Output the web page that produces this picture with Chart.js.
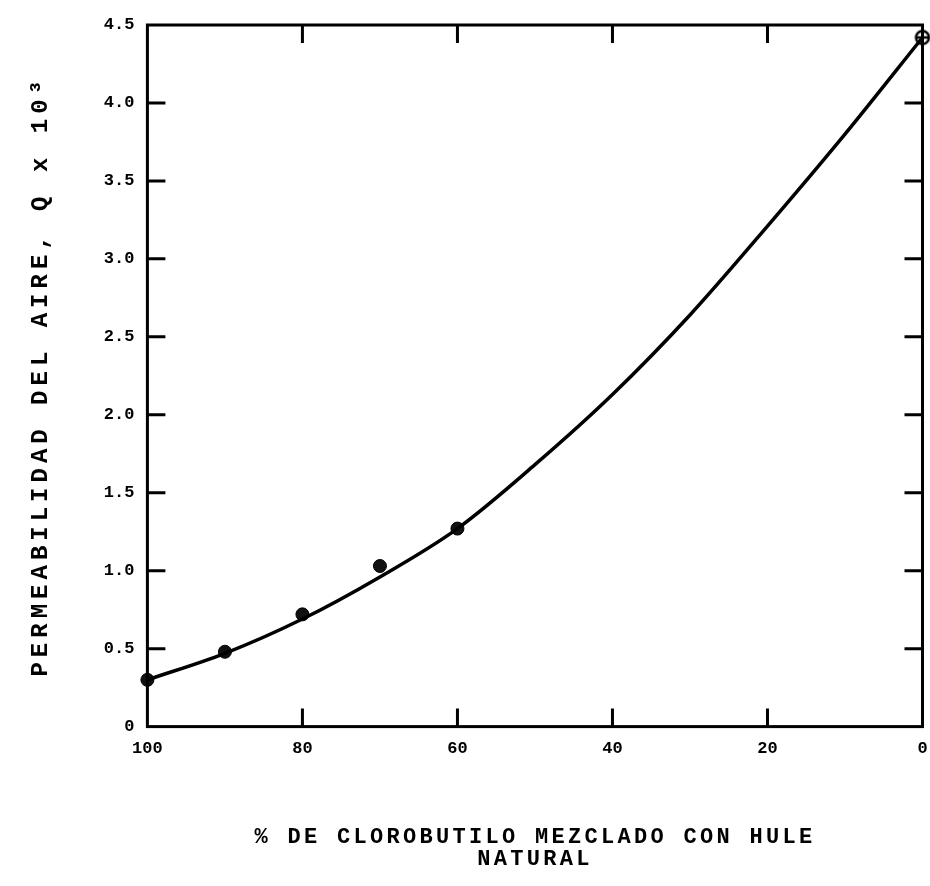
<!DOCTYPE html>
<html>
<head>
<meta charset="utf-8">
<script src="https://cdn.jsdelivr.net/npm/chart.js@4/dist/chart.umd.min.js"></script>
<style>
  html, body { margin:0; padding:0; background:#fff; overflow:hidden; }
  #wrap { width:930px; height:886px; }
  #permChart { display:block; }
</style>
</head>
<body>
<div id="wrap"><canvas id="permChart"></canvas></div>
<script>
// measured points
const pointX = [100, 90, 80, 70, 60, 0];
const pointY = [0.30, 0.48, 0.72, 1.03, 1.27, 4.42];

// fitted curve
const curveX = [100, 90, 80, 70, 60, 50, 40, 30, 20, 10, 0];
const curveY = [0.30, 0.47, 0.69, 0.96, 1.27, 1.68, 2.13, 2.64, 3.21, 3.80, 4.42];

const xTicks = [100, 80, 60, 40, 20, 0];
const yTicks = [0, 0.5, 1.0, 1.5, 2.0, 2.5, 3.0, 3.5, 4.0, 4.5];

const font = "'Liberation Mono', 'DejaVu Sans Mono', monospace";

// open circle with a bar through it for the 0% point
function barCircle(){
    const c = document.createElement('canvas');
    c.width = 18; c.height = 18;
    const g = c.getContext('2d');
    g.fillStyle = '#fff';
    g.strokeStyle = '#000';
    g.lineWidth = 2.5;
    g.beginPath(); g.arc(9, 9, 6.5, 0, Math.PI*2); g.fill(); g.stroke();
    g.beginPath(); g.moveTo(2.5, 9); g.lineTo(15.5, 9); g.stroke();
    return c;
}
const markStyles = pointX.map((x, i) => i === pointX.length-1 ? barCircle() : 'circle');

// typewriter look: wider letter spacing on the axis titles
const titleSpacing = {x:'3.3px', y:'5px'};
const spacedTitles = {
    id:'spacedTitles',
    beforeDraw(chart){
        Object.keys(titleSpacing).forEach(id => {
            const s = chart.scales[id];
            if (!s || s._spaced) return;
            const orig = s.drawTitle.bind(s);
            s.drawTitle = function(){
                chart.ctx.save();
                chart.ctx.letterSpacing = titleSpacing[id];
                orig();
                chart.ctx.restore();
            };
            s._spaced = true;
        });
    }
};

// box frame + inward ticks on all four sides
const frame = {
    id:'frame',
    afterDatasetsDraw(chart){
        const {ctx, chartArea:a, scales} = chart;
        const len = 18;
        ctx.save();
        ctx.strokeStyle = '#000';
        ctx.lineWidth = 3;
        ctx.strokeRect(a.left, a.top, a.right-a.left, a.bottom-a.top);
        ctx.beginPath();
        xTicks.forEach(v => {
            if (v === 0 || v === 100) return;
            const px = scales.x.getPixelForValue(v);
            ctx.moveTo(px, a.bottom); ctx.lineTo(px, a.bottom-len);
            ctx.moveTo(px, a.top); ctx.lineTo(px, a.top+len);
        });
        yTicks.forEach(v => {
            if (v === 0 || v === 4.5) return;
            const py = scales.y.getPixelForValue(v);
            ctx.moveTo(a.left, py); ctx.lineTo(a.left+len, py);
            ctx.moveTo(a.right, py); ctx.lineTo(a.right-len, py);
        });
        ctx.stroke();
        ctx.restore();
    }
};

const ctx = document.getElementById('permChart').getContext('2d');
new Chart(ctx,{
    type:'scatter',
    data:{
        datasets:[
            {
                data: curveX.map((x, i) => ({x:x, y:curveY[i]})),
                showLine:true,
                borderColor:'#000',
                borderWidth:3.5,
                pointRadius:0,
                cubicInterpolationMode:'monotone',
                clip:false
            },
            {
                data: pointX.map((x, i) => ({x:x, y:pointY[i]})),
                showLine:false,
                pointStyle: markStyles,
                pointRadius:6.5,
                backgroundColor:'#111',
                borderColor:'#000',
                clip:false
            }
        ]
    },
    plugins:[frame, spacedTitles],
    options:{
        responsive:true,
        maintainAspectRatio:false,
        animation:false,
        layout:{padding:{left:27, right:4, top:25, bottom:16}},
        plugins:{legend:{display:false}, tooltip:{enabled:false}},
        scales:{
            x:{
                type:'linear',
                reverse:true,
                min:0, max:100,
                afterBuildTicks: s => { s.ticks = xTicks.map(v => ({value:v})); },
                afterFit: s => { s.paddingRight = 0; s.paddingLeft = 0; },
                grid:{display:false, drawTicks:false},
                border:{display:false},
                ticks:{
                    color:'#000',
                    padding:12,
                    font:{family:font, size:17, weight:'bold'}
                },
                title:{
                    display:true,
                    text:['% DE CLOROBUTILO MEZCLADO CON HULE', 'NATURAL'],
                    color:'#000',
                    padding:{top:55, bottom:0},
                    font:{family:font, size:22, weight:'bold', lineHeight:1.0}
                }
            },
            y:{
                type:'linear',
                min:0, max:4.5,
                afterBuildTicks: s => { s.ticks = yTicks.map(v => ({value:v})); },
                grid:{display:false, drawTicks:false},
                border:{display:false},
                ticks:{
                    color:'#000',
                    padding:13,
                    font:{family:font, size:17, weight:'bold'},
                    callback: v => v === 0 ? '0' : Number(v).toFixed(1)
                },
                title:{
                    display:true,
                    text:'PERMEABILIDAD DEL AIRE, Q x 10³',
                    color:'#000',
                    padding:{top:0, bottom:35},
                    font:{family:font, size:24, weight:'bold'}
                }
            }
        }
    }
});
</script>
</body>
</html>
